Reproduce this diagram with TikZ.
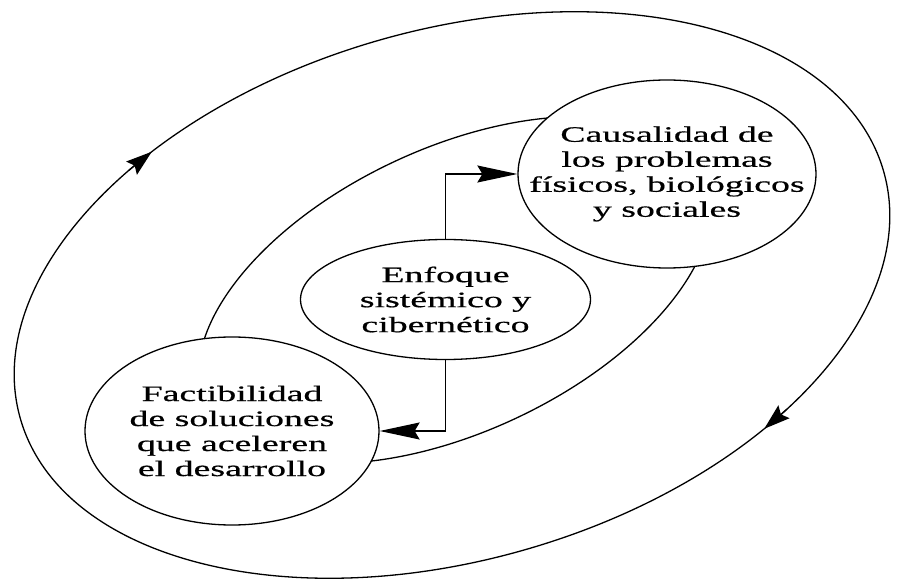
\documentclass[tikz,border=0pt]{standalone}
\usepackage{fontspec}
\newfontfamily\rotulofont[FakeStretch=1.72,FakeBold=0.6]{Liberation Serif}
\usetikzlibrary{arrows.meta,shapes.geometric}
\begin{document}
\begin{tikzpicture}[x=1pt,y=1pt,
  trazo/.style={line width=1.3pt},
  globo/.style={draw,ellipse,fill=white,line width=1.3pt,inner sep=0pt},
  rotulo/.style={align=center,font=\rotulofont\fontsize{22}{25}\selectfont,inner sep=0pt},
  flecha/.style={-{Stealth[length=40pt,width=17pt,inset=5pt]},line width=1.3pt},
  punta/.style={-{Stealth[length=26pt,width=17pt,inset=4pt]},line width=1.3pt}]
\useasboundingbox (0,0) rectangle (898,582);

% outer feedback loop with its two direction marks
\begin{scope}[shift={(452,287)},rotate=16]
  \draw[trazo] (0,0) ellipse [x radius=449, y radius=265];
  \coordinate (a1) at ({449*cos(128)},{265*sin(128)});
  \coordinate (a1t) at ({449*cos(123.7)},{265*sin(123.7)});
  \coordinate (a2) at ({449*cos(310.2)},{265*sin(310.2)});
  \coordinate (a2t) at ({449*cos(305.9)},{265*sin(305.9)});
\end{scope}
\draw[punta] (a1) -- (a1t);
\draw[punta] (a2) -- (a2t);

% inner loop joining the two outer bubbles
\draw[trazo, rotate around={25:(455,292)}] (455,292) ellipse [x radius=275, y radius=142];

% bubbles
\node[globo, minimum width=298, minimum height=188] (causa) at (667,408) {};
\node[rotulo] (causa-txt) at (causa) {Causalidad de\\los problemas\\físicos, biológicos\\y sociales};

\node[globo, minimum width=294, minimum height=188] (facti) at (232,151) {};
\node[rotulo] (facti-txt) at (facti) {Factibilidad\\de soluciones\\que aceleren\\el desarrollo};

\node[globo, minimum width=290, minimum height=120] (enfoque) at (445.5,282.5) {};
\node[rotulo] (enfoque-txt) at (enfoque) {Enfoque\\sistémico y\\cibernético};

% connectors from the central approach
\draw[flecha] (enfoque.north) |- (causa.west);
\draw[flecha] (enfoque.south) |- (facti.east);
\end{tikzpicture}
\end{document}
